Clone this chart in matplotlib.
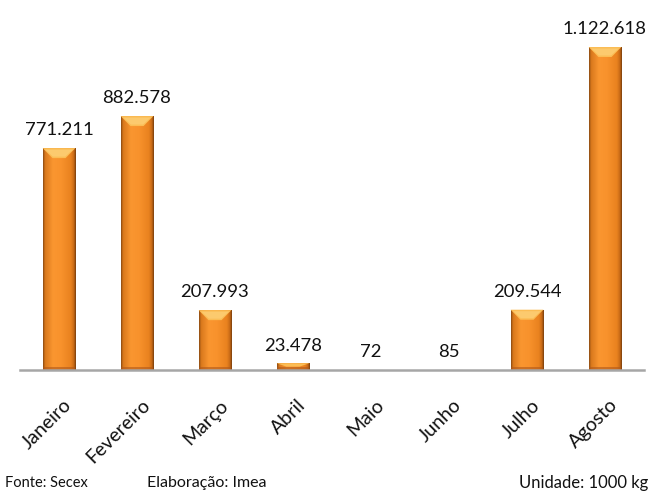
import matplotlib
matplotlib.use("Agg")
import matplotlib.pyplot as plt
import numpy as np
from matplotlib.patches import Polygon, Rectangle
from matplotlib.colors import LinearSegmentedColormap
from matplotlib.transforms import ScaledTranslation

categories = ["Janeiro", "Fevereiro", "Março", "Abril", "Maio", "Junho", "Julho", "Agosto"]
values = [771211, 882578, 207993, 23478, 72, 85, 209544, 1122618]
labels = ["771.211", "882.578", "207.993", "23.478", "72", "85", "209.544", "1.122.618"]

plt.rcParams['font.family'] = ['Lato', 'DejaVu Sans']

fig = plt.figure(figsize=(6.52, 4.94), dpi=100)
W, H = 652, 494
left_px, right_px = 20, 644
bottom_px, top_px = 370, 10
ax = fig.add_axes([left_px / W, 1 - bottom_px / H, (right_px - left_px) / W, (bottom_px - top_px) / H])

x = np.arange(len(categories))
bw = 0.42
ax.set_xlim(-0.5, 7.5)
ymax = 1122618 * (bottom_px - top_px) / (370 - 47)
ax.set_ylim(0, ymax)

cmap = LinearSegmentedColormap.from_list(
    "bev", [(0, "#8a4a12"), (0.06, "#d8781c"), (0.3, "#fa9630"), (0.55, "#f8922c"),
            (0.85, "#e9821f"), (0.94, "#c86a16"), (1, "#7a3e0c")])
grad = np.linspace(0, 1, 128).reshape(1, -1)
bars = ax.bar(x, values, width=bw, color="#f39430", edgecolor="none", zorder=2)
px_per_unit = (bottom_px - top_px) / ymax
for b in bars:
    x0, w, h = b.get_x(), b.get_width(), b.get_height()
    if h <= 0:
        continue
    im = ax.imshow(grad, cmap=cmap, aspect="auto", extent=[x0, x0 + w, 0, h], zorder=3, interpolation="bilinear")
    im.set_clip_path(b)
    bev_h = min(10 / px_per_unit, h * 0.5)
    inset = w * 0.3
    top = Polygon([[x0, h], [x0 + w, h], [x0 + w - inset, h - bev_h], [x0 + inset, h - bev_h]],
                  closed=True, facecolor="#fbbd55", edgecolor="none", zorder=4)
    ax.add_patch(top)
    hl = Polygon([[x0 + w * 0.08, h - 1.5 / px_per_unit], [x0 + w * 0.92, h - 1.5 / px_per_unit],
                  [x0 + w - inset * 1.05, h - bev_h * 0.85], [x0 + inset * 1.05, h - bev_h * 0.85]],
                 closed=True, facecolor="#fdd07a", edgecolor="none", zorder=4, alpha=0.7)
    if h > 12 / px_per_unit:
        ax.add_patch(hl)
    ax.add_patch(Rectangle((x0, 0), w, min(h, 3 / px_per_unit), facecolor="#b0581a", edgecolor="none",
                           zorder=4, alpha=0.6))

for xi, v, lab in zip(x, values, labels):
    ax.annotate(lab, (xi, v), xytext=(0, 7), textcoords="offset points", ha="center", va="bottom",
                fontsize=13.3, color="#111111")

for s in ["top", "right", "left"]:
    ax.spines[s].set_visible(False)
ax.spines["bottom"].set_color("#a6a6a6")
ax.spines["bottom"].set_linewidth(1.8)
ax.spines["bottom"].set_zorder(5)
ax.set_yticks([])
ax.set_xticks(x)
ax.set_xticklabels(categories, rotation=45, ha="right", rotation_mode="anchor", fontsize=14, color="#111111")
ax.tick_params(axis="x", length=0, pad=19)
for t in ax.get_xticklabels():
    t.set_transform(t.get_transform() + ScaledTranslation(4 / 100, 0, fig.dpi_scale_trans))

fig.text(5 / W, 1 - 483 / H, "Fonte: Secex", fontsize=10.5, va="center", ha="left", color="#111111")
fig.text(147 / W, 1 - 483 / H, "Elaboração: Imea", fontsize=11.5, va="center", ha="left", color="#111111")
fig.text(648 / W, 1 - 483 / H, "Unidade: 1000 kg", fontsize=12, va="center", ha="right", color="#111111")

fig.savefig("out.png", dpi=100)
